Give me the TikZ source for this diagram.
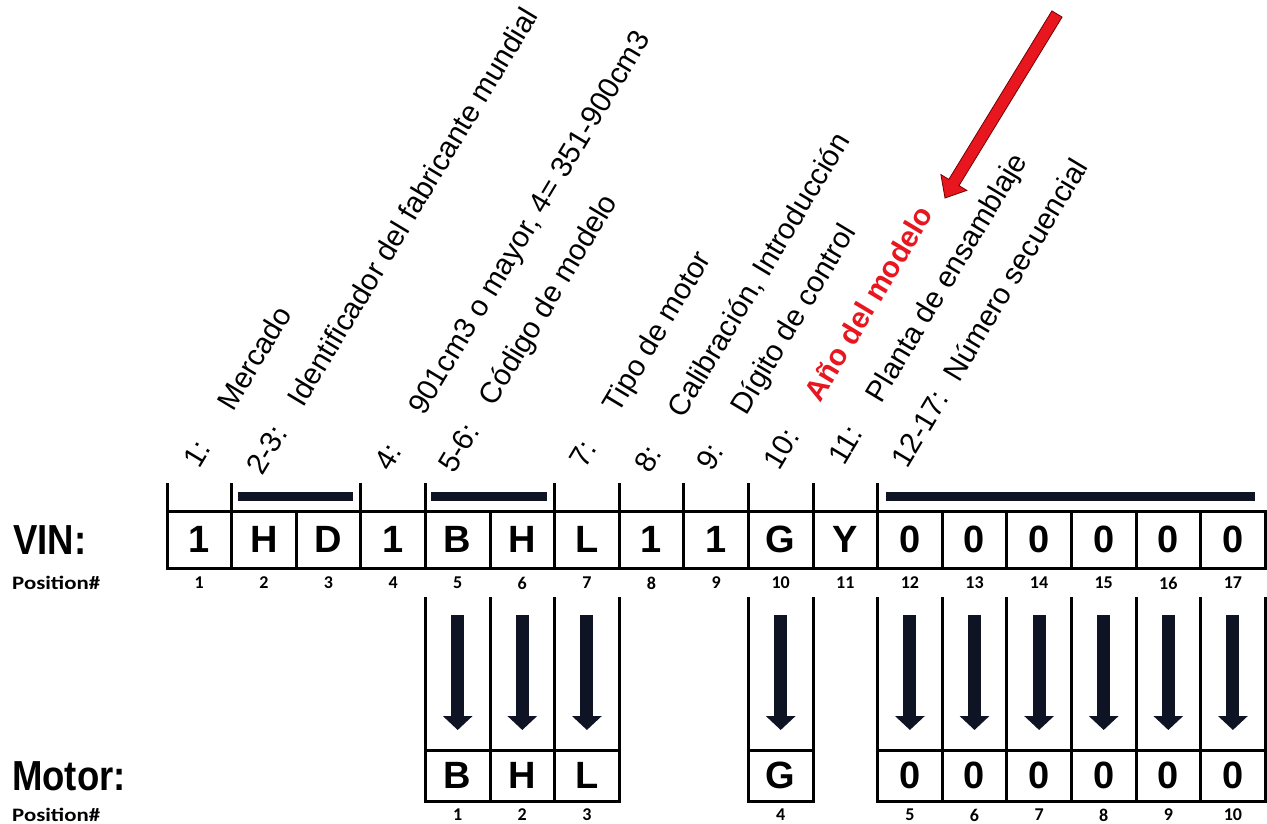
\documentclass[tikz,border=0pt]{standalone}
\usepackage{fontspec}
\setmainfont{Liberation Sans}
\newfontfamily\posfont{Carlito}
\usetikzlibrary{arrows.meta,calc}
\definecolor{navy}{RGB}{14,20,36}
\definecolor{vinred}{RGB}{232,22,30}
\begin{document}
\begin{tikzpicture}[x=1pt,y=-1pt,
  grid/.style={line width=3pt, black},
  cell/.style={draw, line width=3pt, minimum width=64.6pt, minimum height=57pt, inner sep=0pt, outer sep=0pt, font=\fontsize{38}{38}\selectfont\bfseries},
  mcell/.style={cell, minimum height=51pt},
  posnum/.style={font=\posfont\fontsize{18}{18}\selectfont\bfseries, inner sep=0pt},
  postitle/.style={anchor=west, xscale=1.2, inner sep=0pt, font=\posfont\fontsize{19}{19}\selectfont\bfseries},
  bar/.style={line width=9.5pt, navy},
  blk/.style={line width=13pt, navy, -{Triangle[width=29pt,length=14pt]}, shorten <=47pt, shorten >=20pt},
  lab/.style={rotate=59, anchor=base west, inner sep=0pt, font=\fontsize{29.5}{30}\selectfont},
  big/.style={anchor=west, xscale=0.87, inner sep=0pt, font=\fontsize{42}{42}\selectfont\bfseries}
]
\useasboundingbox (0,0) rectangle (1267,824);

% VIN row
\foreach \c [count=\i] in {1,H,D,1,B,H,L,1,1,G,Y,0,0,0,0,0,0} {
  \node[cell] (v\i) at ({167+64.6*(\i-0.5)}, 539.5) {\c};
  \node[posnum] (p\i) at ({167+64.6*(\i-0.5)}, 583) {\i};
}
% top group dividers
\foreach \i in {1,2,4,5,7,8,9,10,11,12} {
  \draw[grid] (v\i.north west) -- ++(0,-28);
}
% group bars
\draw[bar] ($(v2.north west)+(6,-14.5)$) -- ($(v3.north east)+(-8,-14.5)$);
\draw[bar] ($(v5.north west)+(6,-14.5)$) -- ($(v6.north east)+(-8,-14.5)$);
\draw[bar] ($(v12.north west)+(8,-14.5)$) -- ($(v17.north east)+(-10,-14.5)$);

% Motor row
\foreach \col/\c/\n in {5/B/1,6/H/2,7/L/3,10/G/4,12/0/5,13/0/6,14/0/7,15/0/8,16/0/9,17/0/10} {
  \node[mcell] (m\n) at ({167+64.6*(\col-0.5)}, 775.5) {\c};
  \node[posnum] (q\n) at ({167+64.6*(\col-0.5)}, 815) {\n};
  \draw[grid] (m\n.north west) -- ++(0,-153);
  \draw[grid] (m\n.north east) -- ++(0,-153);
  \draw[blk] (v\col.south) -- (m\n.north);
}

% row titles
\node[big] (vin) at (13,540) {VIN:};
\node[postitle] (pos1) at (12,583) {Position\#};
\node[big] (motor) at (12,776) {Motor:};
\node[postitle] (pos2) at (12,815) {Position\#};

% rotated labels
\node[lab] (l1) at (199,470) {1:};
\node[lab] (t1) at ($(l1.base west)+(-59:67)$) {Mercado};
\node[lab] (l2) at (262,477) {2-3:};
\node[lab] (t2) at ($(l2.base west)+(-59:80)$) {Identificador del fabricante mundial};
\node[lab] (l4) at (390,473) {4:};
\node[lab] (t4) at ($(l4.base west)+(-59:66)$) {901cm3 o mayor, 4= 351-900cm3};
\node[lab] (l5) at (454,475) {5-6:};
\node[lab] (t5) at ($(l5.base west)+(-59:79)$) {Código de modelo};
\node[lab] (l7) at (585,470) {7:};
\node[lab] (t7) at ($(l7.base west)+(-59:65)$) {Tipo de motor};
\node[lab] (l8) at (650,475) {8:};
\node[lab] (t8) at ($(l8.base west)+(-59:65)$) {Calibración, Introducción};
\node[lab] (l9) at (712,473) {9:};
\node[lab] (t9) at ($(l9.base west)+(-59:66)$) {Dígito de control};
\node[lab] (l10) at (779,472) {10:};
\node[lab, text=vinred, font=\fontsize{29.5}{30}\selectfont\bfseries] (t10) at ($(l10.base west)+(-59:80)$) {Año del modelo};
\node[lab] (l11) at (844,467) {11:};
\node[lab] (t11) at ($(l11.base west)+(-59:73)$) {Planta de ensamblaje};
\node[lab] (l12) at (907,470) {12-17:};
\node[lab] (t12) at ($(l12.base west)+(-59:101)$) {Número secuencial};

% red pointer arrow
\filldraw[fill=vinred, draw=black!55!red, line width=0.8pt]
  (1062.1,17.1) -- (959.0,185.6) -- (966.8,190.4) -- (945,198) -- (940.9,174.6) -- (948.8,179.4) -- (1051.9,10.9) -- cycle;
\end{tikzpicture}
\end{document}
